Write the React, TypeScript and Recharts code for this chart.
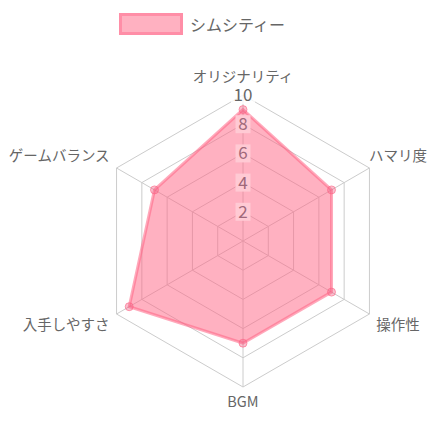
import { PolarAngleAxis, PolarGrid, PolarRadiusAxis, Radar, RadarChart, Legend } from 'recharts'

// 評価項目（上から時計回り）
const categories = ['オリジナリティ', 'ハマリ度', '操作性', 'BGM', '入手しやすさ', 'ゲームバランス']
const simcity = [9, 7, 7, 7, 9, 7]
const radiusTicks = [0, 2, 4, 6, 8, 10]
const seriesName = 'シムシティー'

const data = categories.map((c, i) => ({ subject: c, value: simcity[i] }))

const CX = 243
const CY = 241
const OUTER = 146
const LABEL_SIZE = 14.5
const RIGHT_EDGE = 427
const FONT = '"Noto Sans CJK JP", "Noto Sans", sans-serif'

// 軸ラベル：頂点の少し外側に配置（右端からはみ出す場合は内側へ寄せる）
const AngleTick = (props: any) => {
  const { payload } = props
  const rad = (payload.coordinate * Math.PI) / 180
  const r = OUTER + 8
  const cos = Math.cos(rad)
  const sin = Math.sin(rad)
  let x = CX + r * cos
  const y = CY - r * sin
  const anchor = Math.abs(cos) < 0.01 ? 'middle' : cos > 0 ? 'start' : 'end'
  if (anchor === 'start') {
    const w = String(payload.value).length * LABEL_SIZE
    if (x + w > RIGHT_EDGE) x = RIGHT_EDGE - w
  }
  const dy = sin > 0.99 ? -5 : sin > 0.01 ? -3 : 12
  return (
    <text x={x} y={y} dy={dy} textAnchor={anchor} fill="#666" fontSize={LABEL_SIZE} fontFamily={FONT}>
      {payload.value}
    </text>
  )
}

// 目盛り：塗りの下にあるように見せるため、塗りの内側は淡いピンクで描く
const RadiusTick = (props: any) => {
  const { x, y, payload } = props
  if (payload.value === 0) return null
  const inside = payload.value < simcity[0]
  const w = String(payload.value).length * 9 + 6
  return (
    <g>
      <rect x={x - w / 2} y={y - 9} width={w} height={18} fill={inside ? '#ffcad4' : 'rgba(255,255,255,0.8)'} />
      <text x={x} y={y} dy={6} textAnchor="middle" fill={inside ? '#a0687a' : '#666'} fontSize={17} fontFamily={FONT}>
        {payload.value}
      </text>
    </g>
  )
}

const LegendBox = () => (
  <div style={{ display: 'flex', alignItems: 'center', fontFamily: FONT }}>
    <div style={{ width: 58, height: 16, background: '#ffb1c1', border: '3px solid #ff8ea7', marginLeft: 119 }} />
    <span style={{ marginLeft: 7, fontSize: 16, color: '#666' }}>{seriesName}</span>
  </div>
)

export default function App() {
  return (
    <div style={{ margin: -8, width: 435, height: 435 }}>
      <RadarChart width={435} height={435} data={data} cx={CX} cy={CY} outerRadius={OUTER} margin={{ top: 0, right: 0, left: 0, bottom: 0 }}>
        <PolarGrid gridType="polygon" stroke="#cccccc" />
        <PolarRadiusAxis angle={90} domain={[0, 10]} ticks={radiusTicks as any} tickCount={6} axisLine={false} tick={<RadiusTick />} />
        <PolarAngleAxis dataKey="subject" tick={<AngleTick />} tickLine={false} />
        <Radar
          name={seriesName}
          dataKey="value"
          stroke="rgba(255,99,132,0.55)"
          strokeWidth={3}
          fill="#ff6384"
          fillOpacity={0.5}
          dot={{ r: 4, fill: 'rgba(240,100,135,0.8)', stroke: 'rgba(255,99,132,0.6)', strokeWidth: 1 }}
          isAnimationActive={false}
        />
        <Legend verticalAlign="top" align="left" content={<LegendBox />} wrapperStyle={{ top: 12, left: 0 }} />
      </RadarChart>
    </div>
  )
}
